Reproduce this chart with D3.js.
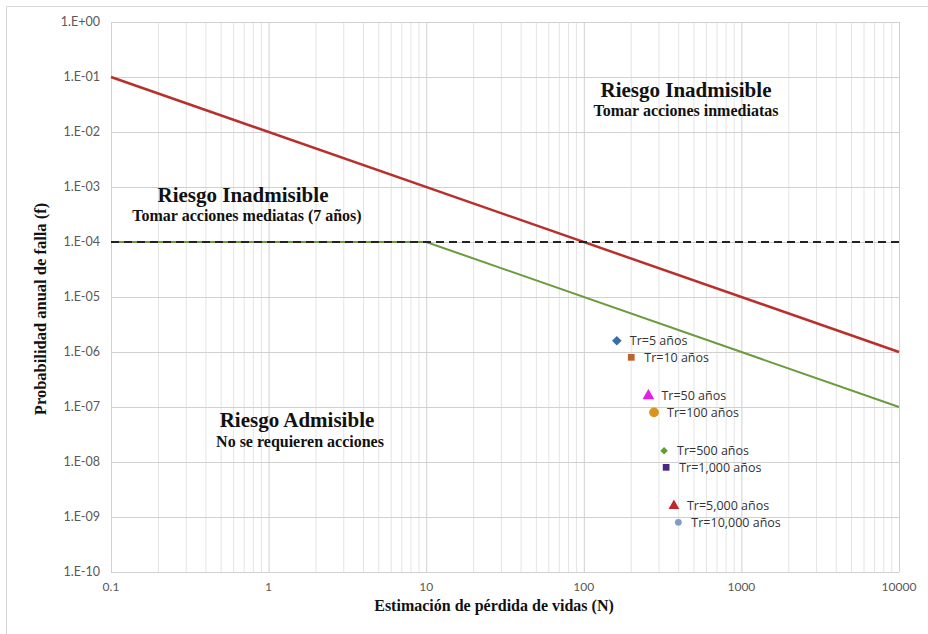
<!DOCTYPE html>
<html>
<head>
<meta charset="utf-8">
<script src="https://cdn.jsdelivr.net/npm/d3@7"></script>
<style>
  body { margin: 0; background: #fff; }
  svg { display: block; }
</style>
</head>
<body>
<svg width="928" height="634"></svg>
<script>
// limit lines (N, f)
const redLine = [[0.1, 1e-1], [10000, 1e-6]];
const greenLine = [[0.1, 1e-4], [10, 1e-4], [10000, 1e-7]];
const dashLine = [[0.1, 1e-4], [10000, 1e-4]];

// return period points
const trLabels = ['Tr=5 años', 'Tr=10 años', 'Tr=50 años', 'Tr=100 años', 'Tr=500 años', 'Tr=1,000 años', 'Tr=5,000 años', 'Tr=10,000 años'];
const trN = [162, 200, 257, 279, 323, 333, 373, 398];
const trF = [1.6e-6, 8e-7, 1.6e-7, 8e-8, 1.6e-8, 8e-9, 1.6e-9, 8e-10];
const trShape = ['diamond', 'square', 'triangle', 'circle', 'diamond', 'square', 'triangle', 'circle'];
const trColor = ['#3b6ea8', '#c0612e', '#e41ee4', '#d6951e', '#5e9e33', '#4a2a80', '#c0262c', '#7f9cc8'];
const trSize = [60, 45, 60, 75, 36, 45, 50, 36];

const xTicks = [0.1, 1, 10, 100, 1000, 10000];
const yTicks = ['1.E+00', '1.E-01', '1.E-02', '1.E-03', '1.E-04', '1.E-05', '1.E-06', '1.E-07', '1.E-08', '1.E-09', '1.E-10'];

const svg = d3.select('svg');

// frame
svg.append('path').attr('d', 'M6.5,640V6.5H940').attr('fill', 'none').attr('stroke', '#d6d6d6');

const x = d3.scaleLog().domain([0.1, 10000]).range([111, 899]);
const y = d3.scaleLog().domain([1e-10, 1]).range([572, 22]);

// minor vertical grid
const minor = [];
for (let e = -1; e < 4; e++) for (let k = 2; k <= 9; k++) minor.push(k * Math.pow(10, e));
svg.append('g').selectAll('line').data(minor).join('line')
    .attr('x1', d => x(d)).attr('x2', d => x(d))
    .attr('y1', 22).attr('y2', 572)
    .attr('stroke', '#e4e4e4').attr('stroke-width', 1);

// major grid
svg.append('g').selectAll('line').data(xTicks).join('line')
    .attr('x1', d => x(d) + 0.5).attr('x2', d => x(d) + 0.5)
    .attr('y1', 22).attr('y2', 572)
    .attr('stroke', '#d0d0d0');
svg.append('g').selectAll('line').data(yTicks).join('line')
    .attr('x1', 111).attr('x2', 899)
    .attr('y1', (d, i) => Math.round(y(Math.pow(10, -i))) + 0.5)
    .attr('y2', (d, i) => Math.round(y(Math.pow(10, -i))) + 0.5)
    .attr('stroke', '#d0d0d0');

// tick labels
svg.append('g').selectAll('text').data(yTicks).join('text')
    .attr('x', 100).attr('y', (d, i) => y(Math.pow(10, -i)))
    .attr('dy', '0.35em').attr('text-anchor', 'end')
    .style('font', '12.5px Lato, sans-serif').style('fill', '#595959')
    .text(d => d);
svg.append('g').selectAll('text').data(xTicks).join('text')
    .attr('x', d => x(d)).attr('y', 591)
    .attr('text-anchor', 'middle')
    .style('font', '12px Lato, sans-serif').style('fill', '#595959')
    .text(d => d);

const line = d3.line().x(d => x(d[0])).y(d => y(d[1]));

svg.append('path').datum(greenLine).attr('d', line)
    .attr('fill', 'none').attr('stroke', '#6a9b3c').attr('stroke-width', 2);
svg.append('path').datum(redLine).attr('d', line)
    .attr('fill', 'none').attr('stroke', '#b8302c').attr('stroke-width', 2.5);
svg.append('path').datum(dashLine).attr('d', line)
    .attr('fill', 'none').attr('stroke', '#222').attr('stroke-width', 2)
    .attr('stroke-dasharray', '8,5');

// points
const symbols = {diamond: d3.symbolDiamond2, square: d3.symbolSquare, triangle: d3.symbolTriangle, circle: d3.symbolCircle};
const pts = svg.append('g').selectAll('g').data(trLabels).join('g')
    .attr('transform', (d, i) => `translate(${x(trN[i])},${y(trF[i])})`);
pts.append('path')
    .attr('d', (d, i) => d3.symbol(symbols[trShape[i]], trSize[i])())
    .attr('fill', (d, i) => trColor[i]);
pts.append('text')
    .attr('x', 13).attr('dy', '0.35em')
    .style('font', '12.5px "Open Sans", sans-serif').style('fill', '#333')
    .text(d => d);

// region annotations
const notes = [
  {x: 686, y: 97, t: 'Riesgo Inadmisible', s: 21},
  {x: 686, y: 116, t: 'Tomar acciones inmediatas', s: 16},
  {x: 243, y: 202, t: 'Riesgo Inadmisible', s: 21},
  {x: 247, y: 221, t: 'Tomar acciones mediatas (7 años)', s: 16},
  {x: 297, y: 427, t: 'Riesgo Admisible', s: 21},
  {x: 300, y: 447, t: 'No se requieren acciones', s: 16}
];
svg.append('g').selectAll('text').data(notes).join('text')
    .attr('x', d => d.x).attr('y', d => d.y)
    .attr('text-anchor', 'middle')
    .style('font-family', '"Liberation Serif", serif').style('font-weight', 'bold')
    .style('font-size', d => d.s + 'px').style('fill', '#111')
    .text(d => d.t);

// axis titles
svg.append('text')
    .attr('x', 494).attr('y', 611).attr('text-anchor', 'middle')
    .style('font', 'bold 16px "Liberation Serif", serif').style('fill', '#111')
    .text('Estimación de pérdida de vidas (N)');
svg.append('text')
    .attr('transform', 'translate(46,309) rotate(-90)').attr('text-anchor', 'middle')
    .style('font', 'bold 16.5px "Liberation Serif", serif').style('fill', '#111')
    .text('Probabilidad anual de falla (f)');
</script>
</body>
</html>
